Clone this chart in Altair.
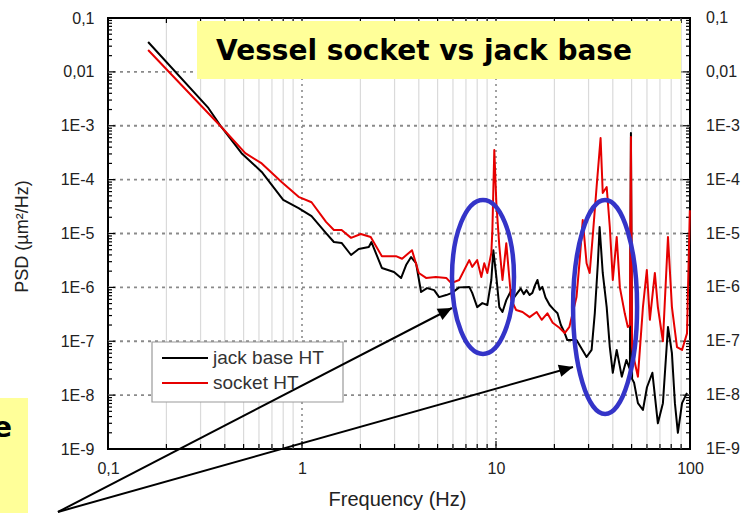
import altair as alt
import pandas as pd

# ---- series -------------------------------------------------------------
series_names = ["jack base HT", "socket HT"]
series_colors = ["#000000", "#e60000"]

jack_freq = [0.161, 0.329, 0.384, 0.488, 0.62, 0.80, 0.96, 1.12, 1.33, 1.46,
             1.60, 1.79, 1.96, 2.21, 2.28, 2.58, 2.98, 3.24, 3.44, 3.65,
             3.87, 4.11, 4.41, 4.80, 5.09, 5.54, 5.93, 6.46, 7.28, 7.54,
             8.0, 8.5, 9.02, 9.46, 9.69, 10.04, 10.4, 10.8, 11.3, 12.0,
             12.4, 12.9, 13.4, 13.9, 14.35, 14.9, 15.4, 15.9, 16.36, 16.8,
             17.35, 18.0, 18.9, 19.8, 20.75, 21.6, 22.6, 23.3, 26.0, 29.3,
             31.1, 32.3, 33.5, 34.2, 35.5, 37.2, 38.6, 40.0, 41.9, 44.5,
             47.0, 49.0, 49.6, 50.3, 51.5, 53.9, 57.2, 60.0, 64.0, 68.3,
             72.5, 77.0, 80.7, 83.6, 86.6, 91.0, 96.5]
jack_psd = [0.0358, 2.14e-3, 9.5e-4, 3.1e-4, 1.39e-4, 4.2e-5, 2.97e-5, 2.11e-5, 1.02e-5, 6.95e-6,
            6.67e-6, 3.99e-6, 5.16e-6, 5.61e-6, 6.95e-6, 2.29e-6, 1.93e-6, 1.49e-6, 2.60e-6, 3.66e-6,
            2.83e-6, 8.2e-7, 9.7e-7, 8.9e-7, 6.6e-7, 7.2e-7, 7.9e-7, 1.0e-6, 1.02e-6, 7.9e-7,
            4.3e-7, 5.1e-7, 4.7e-7, 1.37e-6, 4.9e-6, 1.56e-6, 4.3e-7, 3.5e-7, 5.8e-7, 8.9e-7,
            6.5e-7, 7.9e-7, 9.5e-7, 7.5e-7, 8.9e-7, 7.2e-7, 7.9e-7, 1.1e-6, 1.37e-6, 9.0e-7,
            1.02e-6, 6.5e-7, 4.7e-7, 3.9e-7, 3.3e-7, 2.0e-7, 1.42e-7, 1.05e-7, 1.05e-7, 5.1e-8,
            6.9e-8, 3.3e-7, 2.8e-6, 1.32e-5, 1.85e-6, 4.3e-7, 7.8e-8, 2.6e-8, 6.9e-8, 2.2e-8,
            4.5e-8, 3.0e-8, 7.3e-4, 2.0e-8, 1.7e-8, 7.1e-9, 5.3e-9, 1.4e-8, 2.6e-8, 3.0e-9,
            7.1e-9, 1.84e-7, 6.0e-8, 7.1e-9, 2.0e-9, 7.1e-9, 1.1e-8]

socket_freq = [0.161, 0.384, 0.51, 0.62, 0.785, 0.96, 1.12, 1.33, 1.46, 1.60,
               1.79, 2.01, 2.26, 2.58, 3.05, 3.28, 3.69, 4.0, 4.36, 4.9,
               5.54, 5.88, 6.46, 7.28, 7.54, 8.0, 8.4, 8.7, 9.02, 9.46,
               9.58, 9.80, 10.04, 10.4, 10.8, 11.3, 11.7, 12.0, 12.7, 13.7,
               14.9, 16.2, 17.2, 18.4, 19.6, 21.3, 22.6, 23.9, 26.0, 27.0,
               28.0, 29.3, 30.4, 31.5, 33.0, 34.6, 35.5, 37.2, 38.6, 40.0,
               41.9, 43.5, 46.1, 47.8, 49.0, 49.6, 50.3, 50.7, 53.9, 57.2,
               59.9, 62.1, 65.9, 68.3, 72.5, 77.0, 80.7, 85.7, 91.0, 96.5,
               99.8]
socket_psd = [0.0255, 9.5e-4, 3.1e-4, 2.0e-4, 9.0e-5, 4.8e-5, 3.8e-5, 1.64e-5, 1.16e-5, 1.16e-5,
              8.3e-6, 9.8e-6, 8.6e-6, 3.8e-6, 3.8e-6, 3.4e-6, 4.9e-6, 1.85e-6, 1.5e-6, 1.56e-6,
              1.5e-6, 1.2e-6, 1.37e-6, 3.2e-6, 2.4e-6, 3.2e-6, 1.56e-6, 2.8e-6, 1.85e-6, 4.35e-6,
              1.16e-5, 3.55e-4, 3.7e-5, 5.9e-6, 1.37e-6, 6.6e-6, 1.56e-6, 5.8e-7, 3.8e-7, 3.5e-7,
              2.8e-7, 3.5e-7, 2.5e-7, 3.3e-7, 2.2e-7, 1.76e-7, 1.42e-7, 1.85e-7, 6.6e-7, 3.2e-6,
              1.78e-5, 2.8e-6, 1.85e-6, 8.6e-6, 7.3e-5, 5.9e-4, 5.65e-5, 7.3e-5, 1.32e-5, 1.37e-6,
              8.6e-6, 1.0e-6, 3.3e-7, 1.84e-7, 2.0e-7, 6.2e-4, 8.0e-8, 6.0e-8, 2.2e-8, 4.3e-7,
              2.1e-6, 2.5e-7, 1.85e-6, 4.3e-7, 1.0e-7, 8.6e-6, 4.3e-7, 7.8e-8, 6.9e-8, 1.4e-7,
              2.7e-5]

# ---- axes ---------------------------------------------------------------
x_tick_values = [0.1, 1, 10, 100]
x_tick_labels = ["0,1", "1", "10", "100"]
y_tick_values = [0.1, 0.01, 1e-3, 1e-4, 1e-5, 1e-6, 1e-7, 1e-8, 1e-9]
y_tick_labels = ["0,1", "0,01", "1E-3", "1E-4", "1E-5", "1E-6", "1E-7", "1E-8", "1E-9"]
x_title = "Frequency (Hz)"
y_title = "PSD (µm²/Hz)"

# ---- annotations (Hz, PSD) ---------------------------------------------
title_text = "Vessel socket vs jack base"
side_note_text = "e"
ring_freq = [8.57, 36.5]
ring_psd = [1.56e-6, 4.33e-7]
arrow_from_freq = [0.0552, 0.0552]
arrow_from_psd = [6.78e-11, 6.78e-11]
arrow_to_freq = [5.93, 24.94]
arrow_to_psd = [4.14e-7, 3.33e-8]

# ---- layout -------------------------------------------------------------
W, H = 582, 431
FONT = "Liberation Sans, Arial"
TEXT = "#222222"
YELLOW = "#ffff99"
BLUE = "#3434c8"

xs = alt.Scale(type="log", domain=[0.1, 100], nice=False)
ys = alt.Scale(type="log", domain=[1e-9, 0.1], nice=False)

one = pd.DataFrame({"k": [0]})


def label_lookup(labels, index_expr):
    return "[" + ",".join(f"'{s}'" for s in labels) + "][" + index_expr + "]"


rows = []
for name, fr, ps in [(series_names[0], jack_freq, jack_psd),
                     (series_names[1], socket_freq, socket_psd)]:
    for i, (f, p) in enumerate(zip(fr, ps)):
        rows.append({"freq": f, "psd": p, "series": name, "i": i})
lines_df = pd.DataFrame(rows)

x_axis = alt.Axis(values=x_tick_values,
                  labelExpr=label_lookup(x_tick_labels, "round(log(datum.value)/LN10) + 1"),
                  domain=False, ticks=False, tickSize=0, grid=False,
                  labelPadding=11, labelFont=FONT, labelFontSize=16, labelColor=TEXT,
                  labelFlush=False, labelOverlap=False,
                  title=x_title, titleFont=FONT, titleFontSize=20, titleFontWeight="normal",
                  titleColor=TEXT, titleX=289, titleY=50, titleAlign="center",
                  titleBaseline="middle")
y_axis = alt.Axis(values=y_tick_values,
                  labelExpr=label_lookup(y_tick_labels, "round(-log(datum.value)/LN10) - 1"),
                  domain=False, ticks=False, tickSize=0, grid=False,
                  labelPadding=14, labelFont=FONT, labelFontSize=16, labelColor=TEXT,
                  labelFlush=False, labelOverlap=False,
                  title=y_title, titleFont=FONT, titleFontSize=18, titleFontWeight="normal",
                  titleColor=TEXT, titleX=-86, titleY=218, titleAngle=270,
                  titleAlign="center", titleBaseline="middle")


def X(field):
    return alt.X(field, scale=xs, axis=x_axis)


def Y(field):
    return alt.Y(field, scale=ys, axis=y_axis)


# gridlines
minor_x = [k * d for d in (0.1, 1, 10) for k in range(2, 10)]
major_x = [1, 10]
minor_y = [k * d for d in (1e-9, 1e-8, 1e-7, 1e-6, 1e-5, 1e-4, 1e-3, 1e-2) for k in range(2, 10)]
major_y = y_tick_values[1:-1]

grid_minor_x = alt.Chart(pd.DataFrame({"f": minor_x})).mark_rule(
    color="#dadada", strokeWidth=1.2).encode(x=X("f:Q"))
grid_major_x = alt.Chart(pd.DataFrame({"f": major_x})).mark_rule(
    color="#8a8a8a", strokeWidth=1.6, strokeDash=[2, 4]).encode(x=X("f:Q"))
grid_y = alt.Chart(pd.DataFrame({"p": major_y})).mark_rule(
    color="#8a8a8a", strokeWidth=1.8, strokeDash=[3, 4]).encode(y=Y("p:Q"))


# inward tick marks on all four sides
def x_ticks(values, length):
    src = alt.Chart(pd.DataFrame({"f": values})).mark_rule(color="black", strokeWidth=1.2)
    return [src.encode(x=X("f:Q"), y=alt.value(H), y2=alt.value(H - length)),
            src.encode(x=X("f:Q"), y=alt.value(0), y2=alt.value(length))]


def y_ticks(values, length):
    src = alt.Chart(pd.DataFrame({"p": values})).mark_rule(color="black", strokeWidth=1.2)
    return [src.encode(y=Y("p:Q"), x=alt.value(0), x2=alt.value(length)),
            src.encode(y=Y("p:Q"), x=alt.value(W), x2=alt.value(W - length))]


tick_layers = x_ticks(minor_x, 5) + x_ticks(major_x, 8) + y_ticks(minor_y, 4) + y_ticks(major_y, 7)

right_labels = alt.Chart(pd.DataFrame({"p": y_tick_values, "lab": y_tick_labels})).mark_text(
    align="left", baseline="middle", font=FONT, fontSize=16, color=TEXT).encode(
    y=Y("p:Q"), x=alt.value(W + 16), text="lab:N")

lines = alt.Chart(lines_df).mark_line(strokeWidth=2, strokeJoin="round").encode(
    x=X("freq:Q"),
    y=Y("psd:Q"),
    color=alt.Color("series:N", scale=alt.Scale(domain=series_names, range=series_colors), legend=None),
    order="i:Q")

# title banner
banner = alt.Chart(one).mark_rect(fill=YELLOW).encode(
    x=alt.value(89), x2=alt.value(573), y=alt.value(3), y2=alt.value(61))
banner_text = alt.Chart(one).mark_text(
    font="DejaVu Sans", fontWeight="bold", fontSize=28, align="center", baseline="alphabetic",
    color="black").encode(x=alt.value(316), y=alt.value(42), text=alt.value(title_text))

side_box = alt.Chart(one).mark_rect(fill=YELLOW).encode(
    x=alt.value(-108), x2=alt.value(-80), y=alt.value(380), y2=alt.value(500))
side_text = alt.Chart(one).mark_text(
    font="DejaVu Sans", fontWeight="bold", fontSize=28, align="right", baseline="alphabetic",
    color="black").encode(x=alt.value(-96), y=alt.value(419), text=alt.value(side_note_text))

# legend
legend_layers = [alt.Chart(one).mark_rect(fill="white", stroke="#9a9a9a", strokeWidth=1.2).encode(
    x=alt.value(44), x2=alt.value(235), y=alt.value(324), y2=alt.value(384))]
for i, (name, col) in enumerate(zip(series_names, series_colors)):
    yy = 340 + 25 * i
    legend_layers.append(alt.Chart(one).mark_rule(color=col, strokeWidth=2).encode(
        x=alt.value(54), x2=alt.value(100), y=alt.value(yy)))
    legend_layers.append(alt.Chart(one).mark_text(
        align="left", baseline="middle", font=FONT, fontSize=19, color="#333333").encode(
        x=alt.value(105), y=alt.value(yy), text=alt.value(name)))


# highlight rings around the resonances
def ellipse_path(ratio, k=0.5523):
    a = ratio
    return (f"M{a:.4f},0C{a:.4f},{k:.4f},{a * k:.4f},1,0,1"
            f"C{-a * k:.4f},1,{-a:.4f},{k:.4f},{-a:.4f},0"
            f"C{-a:.4f},{-k:.4f},{-a * k:.4f},-1,0,-1"
            f"C{a * k:.4f},-1,{a:.4f},{-k:.4f},{a:.4f},0Z")


ring_layers = []
for f, p, rx, ry in [(ring_freq[0], ring_psd[0], 31, 77), (ring_freq[1], ring_psd[1], 32, 107)]:
    ring_layers.append(alt.Chart(pd.DataFrame({"f": [f], "p": [p]})).mark_point(
        shape=ellipse_path(rx / ry), size=(2 * ry) ** 2, filled=False, stroke=BLUE,
        strokeWidth=4.5, opacity=1).encode(x=X("f:Q"), y=Y("p:Q")))

# pointer arrows
arrow_df = pd.DataFrame({"f0": arrow_from_freq, "p0": arrow_from_psd,
                         "f1": arrow_to_freq, "p1": arrow_to_psd})
arrow_lines = alt.Chart(arrow_df).mark_rule(color="black", strokeWidth=2).encode(
    x=X("f0:Q"), x2="f1:Q", y=Y("p0:Q"), y2="p1:Q")
head_path = "M0,0L-1,-0.45L-1,0.45Z"
arrow_heads = []
for f, p, ang in [(arrow_to_freq[0], arrow_to_psd[0], 332.6), (arrow_to_freq[1], arrow_to_psd[1], 344.3)]:
    arrow_heads.append(alt.Chart(pd.DataFrame({"f": [f], "p": [p]})).mark_point(
        shape=head_path, size=784, filled=True, color="black", opacity=1, angle=ang).encode(
        x=X("f:Q"), y=Y("p:Q")))

chart = alt.layer(
    grid_minor_x, grid_major_x, grid_y, *tick_layers, right_labels, lines,
    banner, banner_text, side_box, side_text, *legend_layers, *ring_layers,
    arrow_lines, *arrow_heads
).properties(
    width=W, height=H,
    padding={"left": 108, "top": 18, "right": 55, "bottom": 64},
    autosize=alt.AutoSizeParams(type="none"),
    background="white",
).configure_view(stroke="black", strokeWidth=2)

chart.save("out.html", embed_options={"renderer": "svg", "actions": False})
